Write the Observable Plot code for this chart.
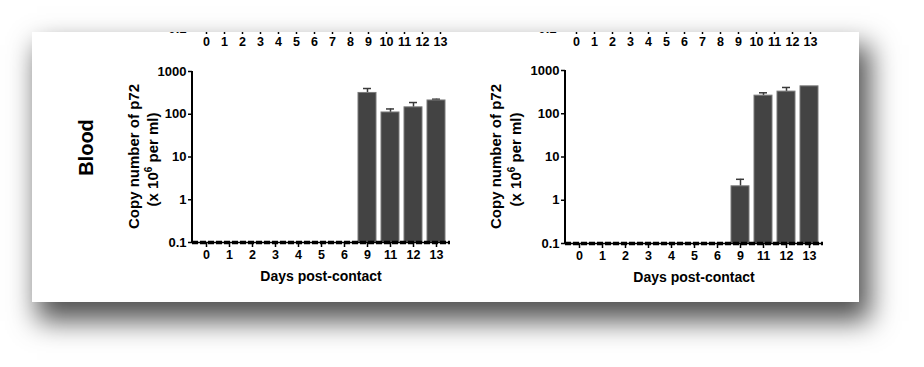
<!DOCTYPE html>
<html><head><meta charset="utf-8">
<script src="https://cdn.jsdelivr.net/npm/d3@7"></script>
<script src="https://cdn.jsdelivr.net/npm/@observablehq/plot@0.6"></script>
<style>
body{margin:0;background:#fff;width:924px;height:367px;overflow:hidden;font-family:"Liberation Sans",Arial,sans-serif;}
#card{position:absolute;left:32px;top:32px;width:827px;height:270px;background:#fff;overflow:hidden;box-shadow:8px 16px 26px 3px rgba(0,0,0,0.68);}
#card svg{position:absolute;}
</style></head><body><div id="card"></div>
<script>
// ---- data ----
const days = ["0","1","2","3","4","5","6","9","11","12","13"];
const bloodA = [0.1,0.1,0.1,0.1,0.1,0.1,0.1,315,110,145,210];
const bloodAUpper = [null,null,null,null,null,null,null,400,133,188,225];
const bloodB = [0.1,0.1,0.1,0.1,0.1,0.1,0.1,2.1,262,325,430];
const bloodBUpper = [null,null,null,null,null,null,null,3.05,305,405,null];
const topDays = [0,1,2,3,4,5,6,7,8,9,10,11,12,13];
const yTicks = [0.1,1,10,100,1000];
const detectionLimit = 0.1;
const rowTitle = "Blood";
const yLabel1 = "Copy number of p72";
const xLabel = "Days post-contact";

const FONT = "'Liberation Sans', Arial, sans-serif";
const card = document.getElementById("card");

function place(el, left, top) {
  el.style.left = left + "px";
  el.style.top = top + "px";
  card.appendChild(el);
}

function topStrip(left, opts) {
  const p = Plot.plot({
    width: opts.width, height: 70,
    marginLeft: 92, marginRight: opts.marginRight, marginTop: 0, marginBottom: 24,
    style: {fontFamily: FONT, background: "transparent", color: "black"},
    x: {type: "point", domain: topDays, padding: 0.72, axis: null},
    y: {type: "log", domain: [0.1, 1000], axis: null},
    marks: [
      Plot.axisX({tickSize: 6, tickPadding: 3, fontSize: 12.5, fontWeight: "bold", label: null, strokeWidth: 1.5}),
      Plot.axisY({ticks: [0.1], tickFormat: () => "0.1", tickSize: 4, tickPadding: 2, fontSize: 13, fontWeight: "bold", label: null})
    ]
  });
  place(p, left, -50);
}

function panel(values, upper, opts) {
  const data = days.map((d, i) => ({day: d, value: values[i], upper: upper[i]}));
  const errs = data.filter(d => d.upper != null);
  const bars = data.filter(d => d.value > detectionLimit);
  const p = Plot.plot({
    width: opts.width, height: 240,
    marginLeft: opts.marginLeft, marginRight: opts.marginRight,
    marginTop: opts.marginTop, marginBottom: opts.marginBottom,
    style: {fontFamily: FONT, background: "transparent", color: "black", overflow: "visible"},
    x: {type: "band", domain: days, paddingInner: 0.23, paddingOuter: 0.115, axis: null},
    y: {type: "log", domain: [0.1, 1000], axis: null},
    marks: [
      Plot.ruleX(errs, {x: "day", y1: "value", y2: "upper", stroke: "#3a3a3a", strokeWidth: 1.5}),
      Plot.tickY(errs, {x: "day", y: "upper", stroke: "#3a3a3a", strokeWidth: 1.5, insetLeft: 5, insetRight: 5}),
      Plot.barY(bars, {x: "day", y1: detectionLimit, y2: "value", fill: "#434343", stroke: "#7a7a7a", strokeWidth: 1}),
      Plot.axisX({tickSize: 5, tickPadding: 3, fontSize: 12.5, fontWeight: "bold", label: null, strokeWidth: 1.5}),
      Plot.axisY({ticks: yTicks, tickFormat: d => d < 1 ? "0.1" : String(d), tickSize: 4, tickPadding: 2, fontSize: 13, fontWeight: "bold", label: null, strokeWidth: 1.5}),
      Plot.ruleY([detectionLimit], {stroke: "black", strokeWidth: 1.5}),
      Plot.ruleY([detectionLimit], {stroke: "black", strokeWidth: 3.5, strokeDasharray: "6,2"})
    ]
  });
  const sx = p.scale("x"), sy = p.scale("y");
  const svg = d3.select(p);
  const x0 = sx.range[0];
  svg.append("line").attr("x1", x0).attr("x2", x0)
    .attr("y1", sy.range[0] + 1).attr("y2", sy.range[1])
    .attr("stroke", "black").attr("stroke-width", 2);
  const cy = (sy.range[0] + sy.range[1]) / 2;
  const cx = (sx.range[0] + sx.range[1]) / 2;
  svg.append("text")
    .attr("transform", `translate(${x0 - opts.labelOff1},${cy}) rotate(-90)`)
    .attr("text-anchor", "middle").attr("font-size", 15).attr("font-weight", "bold")
    .attr("font-family", FONT).attr("fill", "black").text(yLabel1);
  const t2 = svg.append("text")
    .attr("transform", `translate(${x0 - opts.labelOff2},${cy + 3}) rotate(-90)`)
    .attr("text-anchor", "middle").attr("font-size", 15).attr("font-weight", "bold")
    .attr("font-family", FONT).attr("fill", "black");
  t2.append("tspan").text("(x 10");
  t2.append("tspan").attr("dy", -6).attr("font-size", 10).text("6");
  t2.append("tspan").attr("dy", 6).text(" per ml)");
  svg.append("text")
    .attr("x", cx).attr("y", sy.range[0] + 39)
    .attr("text-anchor", "middle").attr("font-size", 14).attr("font-weight", "bold")
    .attr("font-family", FONT).attr("fill", "black").text(xLabel);
  if (opts.title) {
    svg.append("text")
      .attr("transform", `translate(${x0 - 99},${cy - 9}) rotate(-90)`)
      .attr("text-anchor", "middle").attr("font-size", 20).attr("font-weight", "bold")
      .attr("font-family", FONT).attr("fill", "black").text(opts.title);
  }
  place(p, opts.left, 23);
}

topStrip(68, {width: 360, marginRight: 7});
topStrip(438, {width: 370, marginRight: 17});
panel(bloodA, bloodAUpper, {left: 8, width: 428, marginLeft: 152, marginRight: 18, marginTop: 16, marginBottom: 53, labelOff1: 53, labelOff2: 34, title: rowTitle});
panel(bloodB, bloodBUpper, {left: 438, width: 370, marginLeft: 95, marginRight: 17, marginTop: 15, marginBottom: 52, labelOff1: 64, labelOff2: 44});
</script></body></html>
